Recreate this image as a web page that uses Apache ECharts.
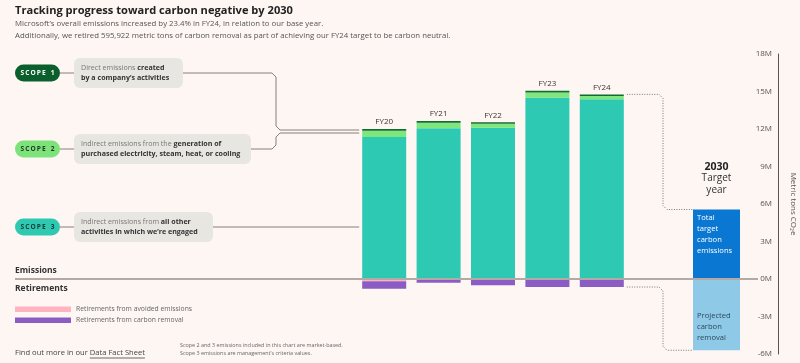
<!DOCTYPE html>
<html><head><meta charset="utf-8">
<script src="https://cdn.jsdelivr.net/npm/echarts@6/dist/echarts.min.js"></script>
<style>html,body{margin:0;padding:0;background:#FDF6F3;}#c{width:800px;height:363px;}</style>
</head><body><div id="c"></div>
<script>
const categories = ['FY20','FY21','FY22','FY23','FY24'];
const scope3 = [11370000, 12060000, 12100000, 14500000, 14390000];
const scope2 = [500000, 450000, 320000, 430000, 260000];
const scope1 = [130000, 130000, 120000, 130000, 120000];
const avoided = [-170000, 0, 0, 0, 0];
const removal = [-610000, -300000, -500000, -640000, -640000];
const targetCategory = ['2030'];
const target2030 = [5560000];
const removal2030 = [-5700000];
const yTicks = {min: -6000000, max: 18000000, interval: 3000000};

const FONT = '"Open Sans", "Noto Sans", sans-serif';
const chart = echarts.init(document.getElementById('c'));

const option = {
  backgroundColor: '#FDF6F3',
  animation: false,
  textStyle: {fontFamily: FONT},
  grid: [
    {left: 357, width: 272, top: 54, height: 300},
    {left: 693, width: 47, top: 54, height: 300}
  ],
  xAxis: [
    {type: 'category', gridIndex: 0, data: categories, show: false},
    {type: 'category', gridIndex: 1, data: targetCategory, show: false}
  ],
  yAxis: [
    {type: 'value', gridIndex: 0, min: yTicks.min, max: yTicks.max, interval: yTicks.interval, show: false},
    {type: 'value', gridIndex: 1, position: 'right', offset: 38,
     min: yTicks.min, max: yTicks.max, interval: yTicks.interval,
     axisLine: {show: true, lineStyle: {color: '#5a5350', width: 1}},
     axisTick: {show: false}, splitLine: {show: false},
     axisLabel: {inside: true, margin: 6, color: '#5a5350', fontSize: 8, fontFamily: FONT,
       formatter: v => (v / 1000000) + 'M'},
     name: 'Metric tons CO\u2082e', nameLocation: 'middle', nameRotate: -90, nameGap: 11,
     nameTextStyle: {color: '#5a5350', fontSize: 8, fontFamily: FONT}
    }
  ],
  series: [
    {type: 'bar', name: 'Scope 3', stack: 'e', data: scope3, barWidth: 44, itemStyle: {color: '#2EC9B3'}},
    {type: 'bar', name: 'Scope 2', stack: 'e', data: scope2, barWidth: 44, itemStyle: {color: '#7DE67C'}},
    {type: 'bar', name: 'Scope 1', stack: 'e', data: scope1, barWidth: 44, itemStyle: {color: '#0F6B2F'},
     label: {show: true, position: 'top', distance: 3, color: '#3a3330', fontSize: 8, fontFamily: FONT,
       formatter: p => p.name, fontWeight: 'normal'}},
    {type: 'bar', name: 'Avoided', stack: 'e', data: avoided, barWidth: 44, itemStyle: {color: '#FFB3BE'}},
    {type: 'bar', name: 'Removal', stack: 'e', data: removal, barWidth: 44, itemStyle: {color: '#8B5CC3'}},
    {type: 'bar', name: 'Target', stack: 't', xAxisIndex: 1, yAxisIndex: 1, data: target2030, barWidth: 47, itemStyle: {color: '#0A78D2'}},
    {type: 'bar', name: 'Projected', stack: 't', xAxisIndex: 1, yAxisIndex: 1, data: removal2030, barWidth: 47, itemStyle: {color: '#8ECAE8'}}
  ]
};
chart.setOption(option);

const px = (cat, v) => chart.convertToPixel({xAxisIndex: 0, yAxisIndex: 0}, [cat, v]);
const px2 = (cat, v) => chart.convertToPixel({xAxisIndex: 1, yAxisIndex: 1}, [cat, v]);
const y0 = px('FY20', 0)[1];
const topFY20 = px('FY20', scope3[0] + scope2[0] + scope1[0]);
const last = categories.length - 1;
const topFY24 = px(categories[last], scope3[last] + scope2[last] + scope1[last]);
const botFY24 = px(categories[last], avoided[last] + removal[last]);
const tTop = px2('2030', target2030[0]);
const tBot = px2('2030', removal2030[0]);
const tx = tTop[0];
const barL = topFY20[0] - 22 - 3;
const fy24R = topFY24[0] + 22 + 3;
const b2030L = tx - 23.5;

const cv = document.createElement('canvas').getContext('2d');
const measure = (s, size, weight) => { cv.font = (weight || 'normal') + ' ' + size + 'px ' + FONT; return cv.measureText(s).width; };

const G = [];
const txt = (x, y, text, st) => G.push({type: 'text', x, y, style: Object.assign({text, fontFamily: FONT, verticalAlign: 'middle'}, st), z: 10});
// Title
txt(15, 11, 'Tracking progress toward carbon negative by 2030', {fontSize: 11.1, fontWeight: 'bold', fill: '#222'});
txt(15, 24, 'Microsoft\u2019s overall emissions increased by 23.4% in FY24, in relation to our base year.', {fontSize: 7.8, fill: '#555'});
txt(15, 36, 'Additionally, we retired 595,922 metric tons of carbon removal as part of achieving our FY24 target to be carbon neutral.', {fontSize: 7.8, fill: '#555'});

// Scope pills and boxes
const pills = [
  {label: 'S\u2009C\u2009O\u2009P\u2009E\u2002 1', y: 73, fill: '#0B5F2C', color: '#fff', boxW: 109, lines: [[['Direct emissions ', 0], ['created', 1]], [['by a company\u2019s activities', 1]]]},
  {label: 'S\u2009C\u2009O\u2009P\u2009E\u2002 2', y: 149, fill: '#7EE27A', color: '#1e3a24', boxW: 177, lines: [[['Indirect emissions from the ', 0], ['generation of', 1]], [['purchased electricity, steam, heat, or cooling', 1]]]},
  {label: 'S\u2009C\u2009O\u2009P\u2009E\u2002 3', y: 227, fill: '#2FC9B2', color: '#123b36', boxW: 139, lines: [[['Indirect emissions from ', 0], ['all other', 1]], [['activities in which we\u2019re engaged', 1]]]}
];
pills.forEach(p => {
  G.push({type: 'rect', shape: {x: 15, y: p.y - 8.5, width: 45, height: 17, r: 8.5}, style: {fill: p.fill}, z: 10});
  txt(37.5, p.y, p.label, {fontSize: 6.6, fontWeight: 'bold', fill: p.color, align: 'center'});
  G.push({type: 'line', shape: {x1: 60, y1: p.y, x2: 74, y2: p.y}, style: {stroke: '#8a7f7c', lineWidth: 1}, z: 9});
  G.push({type: 'rect', shape: {x: 74, y: p.y - 15, width: p.boxW, height: 30, r: 6}, style: {fill: '#E8E6E1'}, z: 10});
  p.lines.forEach((ln, i) => {
    const t = ln.map(s => s[1] ? '{b|' + s[0] + '}' : '{n|' + s[0] + '}').join('');
    G.push({type: 'text', x: 81, y: p.y - 5 + i * 10, z: 11, style: {text: t, verticalAlign: 'middle', fontFamily: FONT,
      rich: {n: {fontSize: 7.1, fill: '#777', fontFamily: FONT}, b: {fontSize: 7.1, fill: '#333', fontWeight: 'bold', fontFamily: FONT}}}});
  });
});
// connectors
const lc = {stroke: '#8a7f7c', lineWidth: 1, fill: null};
const xb = 276, r = 4;
G.push({type: 'polyline', shape: {points: [[183, 73], [xb - r, 73], [xb, 73 + r], [xb, 126], [xb + r, 130], [barL, 130]]}, style: lc, z: 9});
G.push({type: 'polyline', shape: {points: [[251, 149], [xb - r, 149], [xb, 149 - r], [xb, 137], [xb + r, 133], [barL, 133]]}, style: lc, z: 9});
G.push({type: 'line', shape: {x1: 213, y1: 227, x2: barL, y2: 227}, style: lc, z: 9});

// dotted connectors to 2030
const dc = {stroke: '#777', lineWidth: 1, lineDash: [1, 1.5], fill: null};
const xv = 663;
G.push({type: 'polyline', shape: {points: [[fy24R, topFY24[1]], [xv - r, topFY24[1]], [xv, topFY24[1] + r], [xv, tTop[1] - r], [xv + r, tTop[1]], [b2030L, tTop[1]]]}, style: dc, z: 9});
G.push({type: 'polyline', shape: {points: [[fy24R, botFY24[1]], [xv - r, botFY24[1]], [xv, botFY24[1] + r], [xv, tBot[1] - r], [xv + r, tBot[1]], [b2030L, tBot[1]]]}, style: dc, z: 9});

// zero line
G.push({type: 'line', shape: {x1: 15, y1: y0, x2: 758, y2: y0}, style: {stroke: '#B3AAA6', lineWidth: 2}, z: 12});
txt(15, y0 - 8.5, 'Emissions', {fontSize: 8.5, fontWeight: 'bold', fill: '#333'});
txt(15, y0 + 9.5, 'Retirements', {fontSize: 8.5, fontWeight: 'bold', fill: '#333'});

// legend
G.push({type: 'rect', shape: {x: 15, y: 306.5, width: 56, height: 5.5}, style: {fill: '#FFB3BE'}, z: 10});
txt(76, 309.3, 'Retirements from avoided emissions', {fontSize: 6.8, fill: '#666'});
G.push({type: 'rect', shape: {x: 15, y: 317.5, width: 56, height: 5.5}, style: {fill: '#8B5CC3'}, z: 10});
txt(76, 320.3, 'Retirements from carbon removal', {fontSize: 6.8, fill: '#666'});

// footer
const fs = 7.6;
const pre = 'Find out more in our ';
const wPre = measure(pre, fs);
const wLink = measure('Data Fact Sheet', fs);
txt(15, 353, pre, {fontSize: fs, fill: '#444'});
txt(15 + wPre, 353, 'Data Fact Sheet', {fontSize: fs, fill: '#444'});
G.push({type: 'line', shape: {x1: 15 + wPre, y1: 358, x2: 15 + wPre + wLink, y2: 358}, style: {stroke: '#444', lineWidth: 0.8}, z: 10});
txt(180, 345.5, 'Scope 2 and 3 emissions included in this chart are market-based.', {fontSize: 5.4, fill: '#666'});
txt(180, 353.5, 'Scope 3 emissions are management\u2019s criteria values.', {fontSize: 5.4, fill: '#666'});

// 2030 labels
txt(tx, 167, '2030', {fontSize: 10.5, fontWeight: 'bold', fill: '#222', align: 'center'});
txt(tx, 178.5, 'Target', {fontSize: 10, fill: '#333', align: 'center'});
txt(tx, 190, 'year', {fontSize: 10, fill: '#333', align: 'center'});
['Total', 'target', 'carbon', 'emissions'].forEach((s, i) => txt(b2030L + 4, tTop[1] + 8 + i * 11, s, {fontSize: 7.6, fill: '#fff'}));
['Projected', 'carbon', 'removal'].forEach((s, i) => txt(b2030L + 4, 316 + i * 11, s, {fontSize: 7.6, fill: '#2a4a5a'}));

chart.setOption({graphic: G});
</script></body></html>
